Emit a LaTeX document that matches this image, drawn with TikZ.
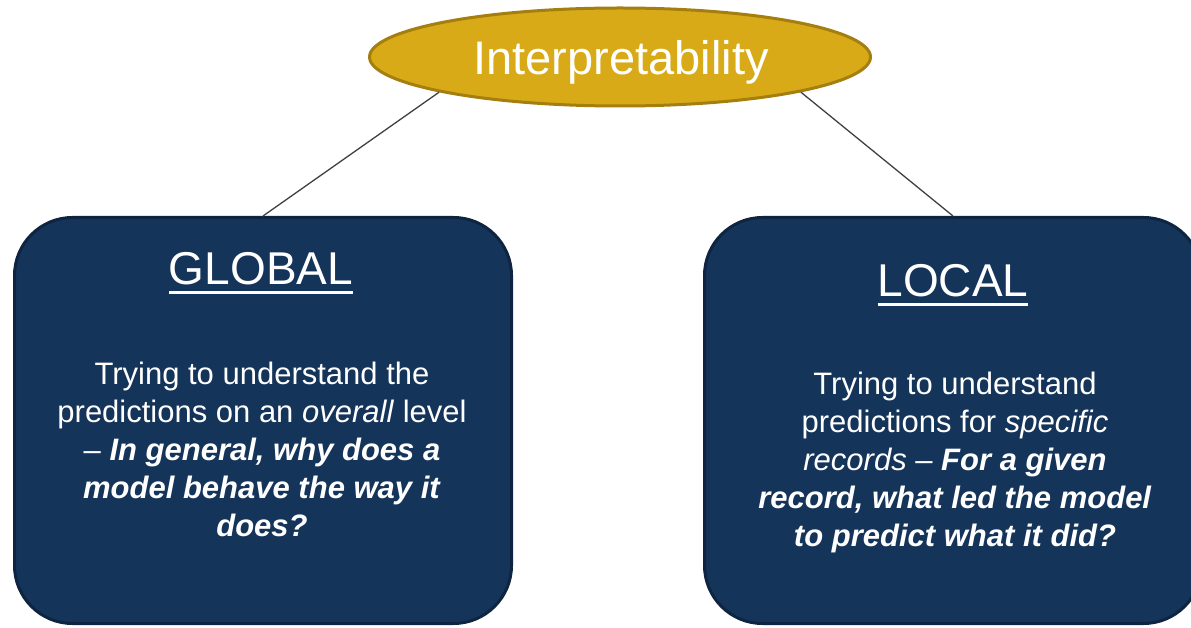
\documentclass[tikz,border=0pt]{standalone}
\usepackage{fontspec}
\setmainfont{Liberation Sans}
\usetikzlibrary{shapes.geometric}
\definecolor{gold}{HTML}{D8AA18}
\definecolor{golddark}{HTML}{A47E0E}
\definecolor{navy}{HTML}{15345A}
\definecolor{navydark}{HTML}{0E2440}
\definecolor{linkgray}{HTML}{404040}
% heading with a drawn underline
\newcommand\headline[1]{\setbox0\hbox{#1}\rlap{\rule[-9pt]{\wd0}{2.5pt}}\box0}
\newcommand\bi[1]{\textbf{\textit{#1}}}
\begin{document}
\begin{tikzpicture}[x=1pt,y=-1pt,
  rootnode/.style={ellipse, draw=golddark, line width=3pt, fill=gold,
    minimum width=501pt, minimum height=98pt, inner sep=0pt},
  panel/.style={draw=navydark, line width=3pt, fill=navy, rounded corners=58pt,
    minimum width=497pt, minimum height=406pt, inner sep=0pt},
  roottext/.style={anchor=base, text=white, inner sep=0pt,
    font=\fontsize{47}{56}\selectfont},
  heading/.style={anchor=base, text=white, inner sep=0pt,
    font=\fontsize{46}{55}\selectfont},
  body/.style={anchor=north, text=white, inner sep=0pt, align=center,
    font=\fontsize{31}{38}\selectfont},
  link/.style={draw=linkgray, line width=1.3pt}]
\clip (0,0) rectangle (1191,628);

\node[rootnode] (ip) at (620,57) {};
\node[roottext] (iptext) at (621,75) {Interpretability};

\node[panel] (gl) at (263,420.5) {};
\node[panel] (lc) at (953,420.5) {};

\draw[link] (ip.191) -- (gl.north);
\draw[link] (ip.-11) -- (lc.north);

\node[heading] (gltitle) at (261,285) {\headline{GLOBAL}};
\node[heading] (lctitle) at (953,297) {\headline{LOCAL}};

\node[body] (gltext) at (262,362) {Trying to understand the\\
  predictions on an \textit{overall} level\\
  -- \bi{In general, why does a}\\
  \bi{model behave the way it}\\
  \bi{does?}};
\node[body] (lctext) at (955,372) {Trying to understand\\
  predictions for \textit{specific}\\
  \textit{records} -- \bi{For a given}\\
  \bi{record, what led the model}\\
  \bi{to predict what it did?}};
\end{tikzpicture}
\end{document}
